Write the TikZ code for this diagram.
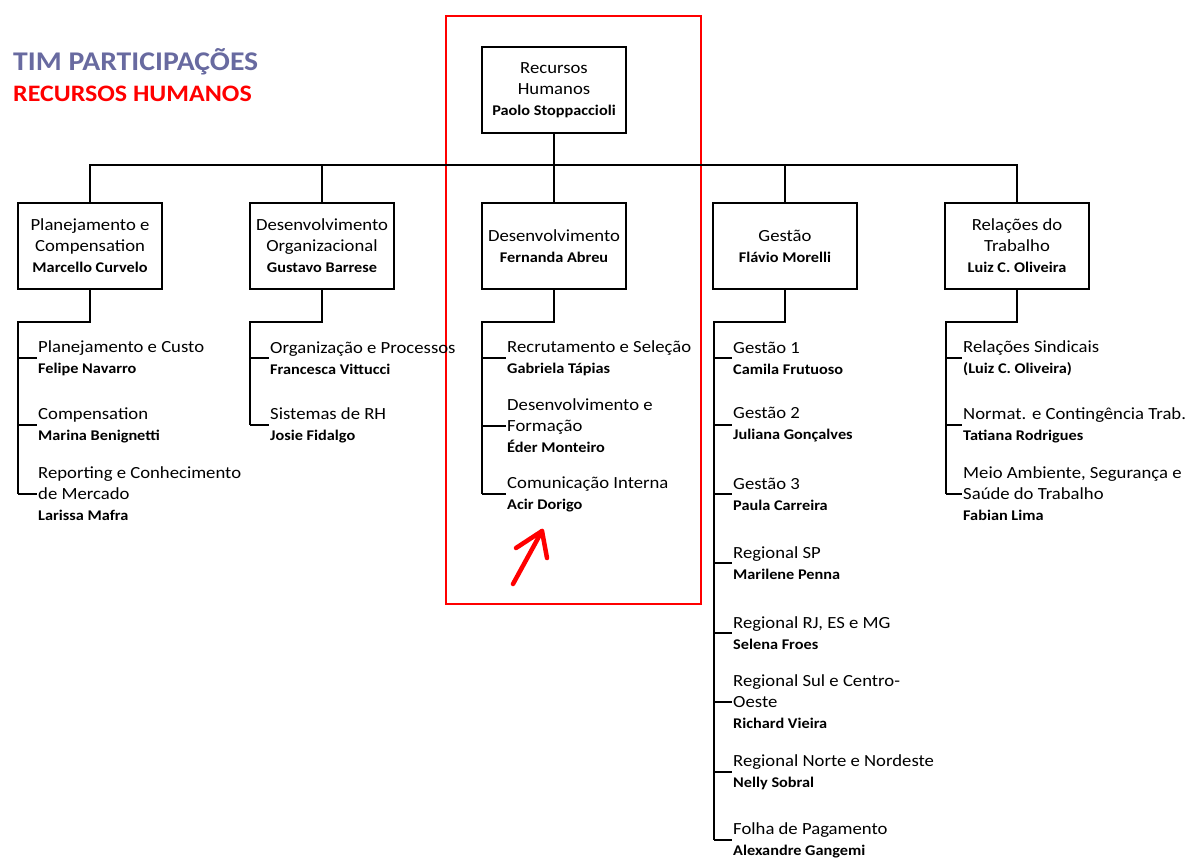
\documentclass[tikz,border=0pt]{standalone}
\usepackage{fontspec}
\setmainfont{Carlito}[FakeStretch=1.1]
\definecolor{titleblue}{RGB}{104,106,160}
\newcommand{\nm}{\fontsize{14.8}{21}\bfseries\selectfont}
\begin{document}
\begin{tikzpicture}[x=1pt,y=1pt,
  orgbox/.style={draw, line width=1.6pt, minimum width=144pt, minimum height=86pt, align=center, inner sep=0pt, font=\fontsize{17}{21}\selectfont},
  item/.style={anchor=west, align=left, inner xsep=1pt, inner ysep=0pt, font=\fontsize{17}{21}\selectfont},
  conn/.style={line width=1.6pt},
  hl/.style={draw=red, line width=1.5pt},
  redarrow/.style={draw=red, line width=4.5pt, line cap=round, line join=round}
]
\useasboundingbox (0,0) rectangle (1191,-860);

% titles
\node[anchor=base west, inner sep=0pt, text=titleblue, font=\fontsize{27}{30}\bfseries\selectfont] (t1) at (13,-70) {TIM PARTICIPAÇÕES};
\node[anchor=base west, inner sep=0pt, text=red, font=\fontsize{23.6}{28}\bfseries\selectfont] (t2) at (13,-101) {RECURSOS HUMANOS};

% highlight frame
\draw[hl] (446,-16) rectangle (701,-604);

% boxes
\node[orgbox] (top) at (554,-90) {Recursos\\Humanos\\\nm Paolo Stoppaccioli};
\node[orgbox] (b1) at (90,-246) {Planejamento e\\Compensation\\\nm Marcello Curvelo};
\node[orgbox] (b2) at (322,-246) {Desenvolvimento\\Organizacional\\\nm Gustavo Barrese};
\node[orgbox] (b3) at (554,-246) {Desenvolvimento\\\nm Fernanda Abreu};
\node[orgbox] (b4) at (785,-246) {Gestão\\\nm Flávio Morelli};
\node[orgbox] (b5) at (1017,-246) {Relações do\\Trabalho\\\nm Luiz C. Oliveira};

\coordinate (bus) at (554,-165);
\draw[conn] (top.south) -- (bus);
\draw[conn] (b1.north) |- (bus) -| (b5.north);
\foreach \b in {b2,b3,b4}{\draw[conn] (\b.north) -- (\b.north |- bus);}

% items column 1
\node[item] (i11) at (37,-358) {Planejamento e Custo\\\nm Felipe Navarro};
\node[item] (i12) at (37,-425) {Compensation\\\nm Marina Benignetti};
\node[item] (i13) at (37,-494) {Reporting e Conhecimento\\de Mercado\\\nm Larissa Mafra};
% column 2
\node[item] (i21) at (269,-358) {Organização e Processos\\\nm Francesca Vittucci};
\node[item] (i22) at (269,-425) {Sistemas de RH\\\nm Josie Fidalgo};
% column 3
\node[item] (i31) at (506,-358) {Recrutamento e Seleção\\\nm Gabriela Tápias};
\node[item] (i32) at (506,-426) {Desenvolvimento e\\Formação\\\nm Éder Monteiro};
\node[item] (i33) at (506,-494) {Comunicação Interna\\\nm Acir Dorigo};
% column 4
\node[item] (i41) at (732,-358) {Gestão 1\\\nm Camila Frutuoso};
\node[item] (i42) at (732,-425) {Gestão 2\\\nm Juliana Gonçalves};
\node[item] (i43) at (732,-494) {Gestão 3\\\nm Paula Carreira};
\node[item] (i44) at (732,-563) {Regional SP\\\nm Marilene Penna};
\node[item] (i45) at (732,-633) {Regional RJ, ES e MG\\\nm Selena Froes};
\node[item] (i46) at (732,-702) {Regional Sul e Centro-\\Oeste\\\nm Richard Vieira};
\node[item] (i47) at (732,-772) {Regional Norte e Nordeste\\\nm Nelly Sobral};
\node[item] (i48) at (732,-840) {Folha de Pagamento\\\nm Alexandre Gangemi};
% column 5
\node[item] (i51) at (962,-358) {Relações Sindicais\\\nm (Luiz C. Oliveira)};
\node[item] (i52) at (962,-425) {Normat. e Contingência Trab.\\\nm Tatiana Rodrigues};
\node[item] (i53) at (962,-494) {Meio Ambiente, Segurança e\\Saúde do Trabalho\\\nm Fabian Lima};

% brackets
\coordinate (s1) at (18,-322);
\coordinate (s2) at (250,-322);
\coordinate (s3) at (482,-322);
\coordinate (s4) at (714,-322);
\coordinate (s5) at (946,-322);
\draw[conn] (b1.south) |- (s1) -- (s1 |- i13.west);
\draw[conn] (b2.south) |- (s2) -- (s2 |- i22.west);
\draw[conn] (b3.south) |- (s3) -- (s3 |- i33.west);
\draw[conn] (b4.south) |- (s4) -- (s4 |- i48.west);
\draw[conn] (b5.south) |- (s5) -- (s5 |- i53.west);
\foreach \i in {i11,i12,i13}{\draw[conn] (s1 |- \i.west) -- (\i.west);}
\foreach \i in {i21,i22}{\draw[conn] (s2 |- \i.west) -- (\i.west);}
\foreach \i in {i31,i32,i33}{\draw[conn] (s3 |- \i.west) -- (\i.west);}
\foreach \i in {i41,i42,i43,i44,i45,i46,i47,i48}{\draw[conn] (s4 |- \i.west) -- (\i.west);}
\foreach \i in {i51,i52,i53}{\draw[conn] (s5 |- \i.west) -- (\i.west);}

% hand-drawn red arrow
\coordinate (atail) at (513,-584);
\coordinate (atip) at (542,-531);
\draw[redarrow] (atail) -- (atip);
\draw[redarrow] (516,-548) -- (atip) -- (547,-558);
\end{tikzpicture}
\end{document}
